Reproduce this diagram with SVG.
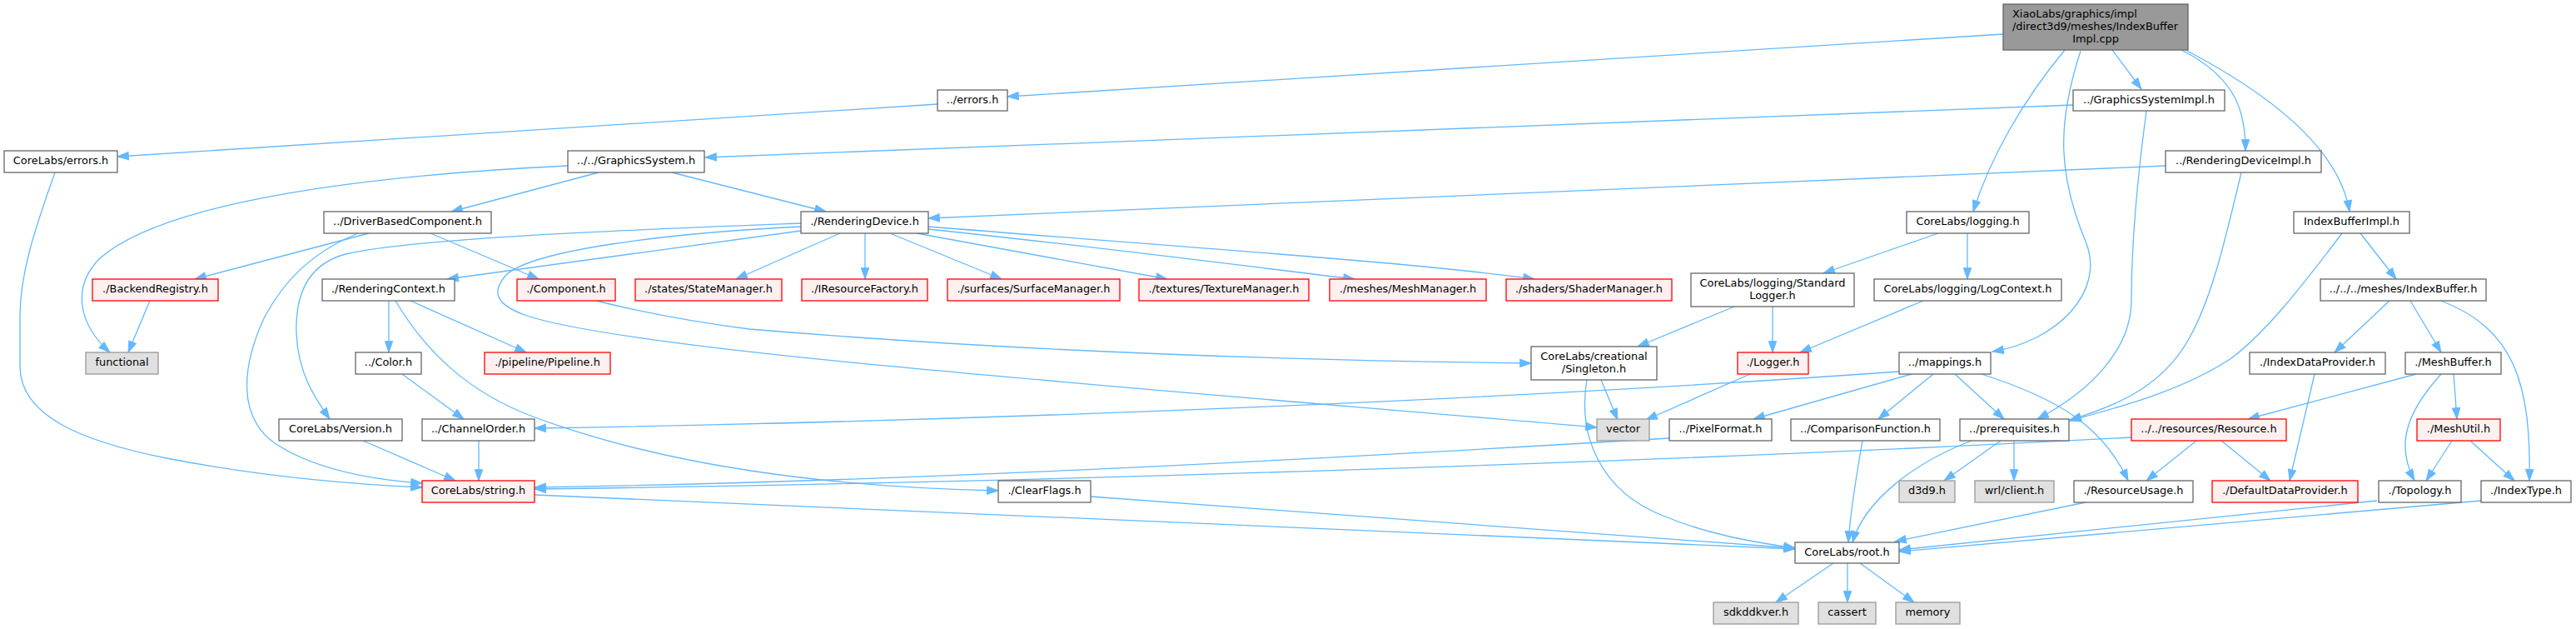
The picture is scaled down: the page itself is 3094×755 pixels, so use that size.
<svg xmlns="http://www.w3.org/2000/svg" width="3094" height="755" viewBox="0 0 3094 755">
<style>
rect{stroke-width:1.3}
.n rect{fill:#ffffff;stroke:#666666}
.r rect{fill:#FFF0F0;stroke:#FF0000}
.g rect{fill:#E0E0E0;stroke:#999999}
.m rect{fill:#999999;stroke:#666666}
text{font-family:"DejaVu Sans","Liberation Sans",sans-serif;font-size:12.9px;text-anchor:middle;fill:#000}
.l{text-anchor:start}
#edges path{fill:none;stroke:#63B8FF;stroke-width:1.3;marker-end:url(#a)}
</style>
<defs>
<marker id="a" markerUnits="userSpaceOnUse" viewBox="0 0 14 10" markerWidth="14" markerHeight="10" refX="13.3" refY="4.65" orient="auto" overflow="visible">
<path d="M0,0 L13.3,4.65 L0,9.3 z" fill="#63B8FF" stroke="#63B8FF" stroke-width="1"/>
</marker>
</defs>
<rect width="3094" height="755" fill="#fff"/>
<g id="edges">
<path d="M2406,41 L1210,116"/>
<path d="M2537,60 L2572,107"/>
<path d="M2620,60 C2690,95 2697,140 2697,181"/>
<path d="M2625,60 C2730,115 2810,180 2822,254"/>
<path d="M2480,60 C2430,120 2390,190 2370,254"/>
<path d="M2499,61 C2470,150 2472,210 2505,290 C2530,350 2470,410 2393,422"/>
<path d="M2490,126 L847,189"/>
<path d="M2578,133 C2565,230 2560,300 2560,360 C2560,420 2510,470 2447,503"/>
<path d="M2601,199 L1115,262"/>
<path d="M2692,207 C2670,300 2655,360 2630,405 C2600,460 2550,485 2486,504"/>
<path d="M2813,280 C2760,350 2720,400 2680,430 C2620,470 2540,490 2486,505"/>
<path d="M2835,280 L2878,335"/>
<path d="M2328,280 L2190,328"/>
<path d="M2363,280 L2363,335"/>
<path d="M2083,368 L1967,416"/>
<path d="M2129,368 L2129,423"/>
<path d="M2310,361 L2162,423"/>
<path d="M2102,449 L1977,504"/>
<path d="M1923,456 L1943,504"/>
<path d="M1906,456 C1895,520 1920,590 2000,620 C2060,645 2120,652 2156,658"/>
<path d="M2281,446 C1800,480 1200,505 642,514"/>
<path d="M2296,449 L2106,503"/>
<path d="M2322,449 L2256,503"/>
<path d="M2348,449 L2407,503"/>
<path d="M2380,449 C2470,478 2525,510 2556,577"/>
<path d="M2403,529 L2335,577"/>
<path d="M2419,529 L2419,577"/>
<path d="M2368,529 C2300,555 2240,600 2225,651"/>
<path d="M2560,525 C2000,555 1200,580 642,587"/>
<path d="M2005,526 C1600,550 1100,578 642,585"/>
<path d="M2638,529 L2578,577"/>
<path d="M2668,529 L2727,577"/>
<path d="M2780,449 L2750,577"/>
<path d="M2902,449 L2700,503"/>
<path d="M2947,449 L2951,503"/>
<path d="M2932,449 C2895,490 2875,530 2900,577"/>
<path d="M2945,529 L2914,577"/>
<path d="M2967,529 L3020,577"/>
<path d="M2870,361 L2804,423"/>
<path d="M2895,361 L2932,423"/>
<path d="M2932,361 C3020,395 3040,460 3038,577"/>
<path d="M2505,603 L2276,650"/>
<path d="M2855,601 L2281,660"/>
<path d="M2980,601 L2281,662"/>
<path d="M2237,529 C2228,580 2222,620 2220,651"/>
<path d="M642,594 L2156,659"/>
<path d="M1310,596 L2156,658"/>
<path d="M2202,676 L2133,723"/>
<path d="M2219,676 L2219,723"/>
<path d="M2234,676 L2299,723"/>
<path d="M1009,280 L884,335"/>
<path d="M1039,280 L1039,335"/>
<path d="M1069,280 L1203,335"/>
<path d="M1101,280 L1402,335"/>
<path d="M1115,275 C1350,300 1500,320 1627,335"/>
<path d="M1115,272 C1400,295 1700,315 1843,335"/>
<path d="M962,277 L537,335"/>
<path d="M962,268 C780,275 500,285 415,305 C360,320 355,370 356,400 C358,450 380,480 396,503"/>
<path d="M962,272 C800,280 640,300 608,330 C590,350 595,365 630,378 C750,420 1300,460 1918,513"/>
<path d="M719,207 L542,254"/>
<path d="M807,207 L992,254"/>
<path d="M682,199 C450,210 200,240 120,310 C85,345 95,390 132,423"/>
<path d="M443,280 L234,335"/>
<path d="M517,280 L647,335"/>
<path d="M430,280 C370,305 340,340 318,380 C290,440 285,500 330,532 C380,565 450,576 507,580"/>
<path d="M66,207 C40,280 24,330 24,380 L24,440 C24,500 100,530 200,550 C330,575 440,582 507,585"/>
<path d="M180,361 L154,423"/>
<path d="M467,361 L467,423"/>
<path d="M493,361 L632,423"/>
<path d="M475,361 C510,420 560,470 640,500 C800,560 1000,585 1199,589"/>
<path d="M483,449 L557,503"/>
<path d="M575,529 L575,577"/>
<path d="M436,529 L547,577"/>
<path d="M716,361 C760,372 820,385 900,395 C1200,420 1500,432 1839,436"/>
<path d="M1126,125 L141,188"/>
</g>
<g id="n_main" class="m"><rect x="2406" y="5" width="222" height="55"/><text class="l" x="2417" y="20.5">XiaoLabs/graphics/impl</text><text class="l" x="2417" y="35.5">/direct3d9/meshes/IndexBuffer</text><text x="2517" y="50.5">Impl.cpp</text></g>
<g id="n_errors" class="n"><rect x="1126" y="108" width="84" height="25"/><text x="1168" y="123.8">../errors.h</text></g>
<g id="n_gsimpl" class="n"><rect x="2490" y="108" width="182" height="25"/><text x="2581" y="123.8">../GraphicsSystemImpl.h</text></g>
<g id="n_clerrors" class="n"><rect x="5" y="181" width="136" height="26"/><text x="73" y="197.3">CoreLabs/errors.h</text></g>
<g id="n_gs" class="n"><rect x="682" y="181" width="164" height="26"/><text x="764" y="197.3">../../GraphicsSystem.h</text></g>
<g id="n_rdimpl" class="n"><rect x="2601" y="181" width="187" height="26"/><text x="2694.5" y="197.3">../RenderingDeviceImpl.h</text></g>
<g id="n_dbc" class="n"><rect x="389" y="254" width="201" height="26"/><text x="489.5" y="270.3">../DriverBasedComponent.h</text></g>
<g id="n_rd" class="n"><rect x="962" y="254" width="153" height="26"/><text x="1038.5" y="270.3">./RenderingDevice.h</text></g>
<g id="n_logging" class="n"><rect x="2290" y="254" width="147" height="26"/><text x="2363.5" y="270.3">CoreLabs/logging.h</text></g>
<g id="n_ibimpl" class="n"><rect x="2755" y="254" width="139" height="26"/><text x="2824.5" y="270.3">IndexBufferImpl.h</text></g>
<g id="n_backend" class="r"><rect x="111" y="335" width="151" height="26"/><text x="186.5" y="351.3">./BackendRegistry.h</text></g>
<g id="n_rctx" class="n"><rect x="387" y="335" width="159" height="26"/><text x="466.5" y="351.3">./RenderingContext.h</text></g>
<g id="n_component" class="r"><rect x="621" y="335" width="118" height="26"/><text x="680" y="351.3">./Component.h</text></g>
<g id="n_state" class="r"><rect x="763" y="335" width="176" height="26"/><text x="851" y="351.3">./states/StateManager.h</text></g>
<g id="n_iresf" class="r"><rect x="963" y="335" width="151" height="26"/><text x="1038.5" y="351.3">./IResourceFactory.h</text></g>
<g id="n_surf" class="r"><rect x="1138" y="335" width="207" height="26"/><text x="1241.5" y="351.3">./surfaces/SurfaceManager.h</text></g>
<g id="n_tex" class="r"><rect x="1368" y="335" width="204" height="26"/><text x="1470" y="351.3">./textures/TextureManager.h</text></g>
<g id="n_mesh" class="r"><rect x="1597" y="335" width="188" height="26"/><text x="1691" y="351.3">./meshes/MeshManager.h</text></g>
<g id="n_shader" class="r"><rect x="1809" y="335" width="199" height="26"/><text x="1908.5" y="351.3">./shaders/ShaderManager.h</text></g>
<g id="n_stdlog" class="n"><rect x="2031" y="328" width="196" height="40"/><text x="2129" y="343.5">CoreLabs/logging/Standard</text><text x="2129" y="358.5">Logger.h</text></g>
<g id="n_logctx" class="n"><rect x="2251" y="335" width="225" height="26"/><text x="2363.5" y="351.3">CoreLabs/logging/LogContext.h</text></g>
<g id="n_ib" class="n"><rect x="2787" y="335" width="199" height="26"/><text x="2886.5" y="351.3">../../../meshes/IndexBuffer.h</text></g>
<g id="n_functional" class="g"><rect x="103" y="423" width="87" height="26"/><text x="146.5" y="439.3">functional</text></g>
<g id="n_color" class="n"><rect x="427" y="423" width="79" height="26"/><text x="466.5" y="439.3">../Color.h</text></g>
<g id="n_pipeline" class="r"><rect x="582" y="423" width="151" height="26"/><text x="657.5" y="439.3">./pipeline/Pipeline.h</text></g>
<g id="n_singleton" class="n"><rect x="1839" y="416" width="151" height="40"/><text x="1914.5" y="431.5">CoreLabs/creational</text><text x="1914.5" y="446.5">/Singleton.h</text></g>
<g id="n_logger" class="r"><rect x="2087" y="423" width="85" height="26"/><text x="2129.5" y="439.3">./Logger.h</text></g>
<g id="n_mappings" class="n"><rect x="2281" y="423" width="110" height="26"/><text x="2336" y="439.3">../mappings.h</text></g>
<g id="n_idp" class="n"><rect x="2702" y="423" width="163" height="26"/><text x="2783.5" y="439.3">./IndexDataProvider.h</text></g>
<g id="n_meshbuf" class="n"><rect x="2889" y="423" width="115" height="26"/><text x="2946.5" y="439.3">./MeshBuffer.h</text></g>
<g id="n_version" class="n"><rect x="335" y="503" width="148" height="26"/><text x="409" y="519.3">CoreLabs/Version.h</text></g>
<g id="n_chorder" class="n"><rect x="507" y="503" width="135" height="26"/><text x="574.5" y="519.3">../ChannelOrder.h</text></g>
<g id="n_vector" class="g"><rect x="1918" y="503" width="63" height="26"/><text x="1949.5" y="519.3">vector</text></g>
<g id="n_pixfmt" class="n"><rect x="2005" y="503" width="123" height="26"/><text x="2066.5" y="519.3">../PixelFormat.h</text></g>
<g id="n_cmpfn" class="n"><rect x="2151" y="503" width="179" height="26"/><text x="2240.5" y="519.3">../ComparisonFunction.h</text></g>
<g id="n_prereq" class="n"><rect x="2354" y="503" width="131" height="26"/><text x="2419.5" y="519.3">../prerequisites.h</text></g>
<g id="n_resource" class="r"><rect x="2560" y="503" width="186" height="26"/><text x="2653" y="519.3">../../resources/Resource.h</text></g>
<g id="n_meshutil" class="r"><rect x="2903" y="503" width="100" height="26"/><text x="2953" y="519.3">./MeshUtil.h</text></g>
<g id="n_string" class="r"><rect x="507" y="577" width="135" height="26"/><text x="574.5" y="593.3">CoreLabs/string.h</text></g>
<g id="n_clearflags" class="n"><rect x="1199" y="577" width="111" height="26"/><text x="1254.5" y="593.3">./ClearFlags.h</text></g>
<g id="n_d3d9" class="g"><rect x="2281" y="577" width="67" height="26"/><text x="2314.5" y="593.3">d3d9.h</text></g>
<g id="n_wrl" class="g"><rect x="2372" y="577" width="95" height="26"/><text x="2419.5" y="593.3">wrl/client.h</text></g>
<g id="n_resusage" class="n"><rect x="2491" y="577" width="143" height="26"/><text x="2562.5" y="593.3">./ResourceUsage.h</text></g>
<g id="n_ddp" class="r"><rect x="2657" y="577" width="175" height="26"/><text x="2744.5" y="593.3">./DefaultDataProvider.h</text></g>
<g id="n_topology" class="n"><rect x="2857" y="577" width="99" height="26"/><text x="2906.5" y="593.3">./Topology.h</text></g>
<g id="n_indextype" class="n"><rect x="2980" y="577" width="108" height="26"/><text x="3034" y="593.3">./IndexType.h</text></g>
<g id="n_root" class="n"><rect x="2156" y="651" width="125" height="25"/><text x="2218.5" y="666.8">CoreLabs/root.h</text></g>
<g id="n_sdk" class="g"><rect x="2058" y="723" width="102" height="26"/><text x="2109" y="739.3">sdkddkver.h</text></g>
<g id="n_cassert" class="g"><rect x="2184" y="723" width="69" height="26"/><text x="2218.5" y="739.3">cassert</text></g>
<g id="n_memory" class="g"><rect x="2277" y="723" width="77" height="26"/><text x="2315.5" y="739.3">memory</text></g>
</svg>
